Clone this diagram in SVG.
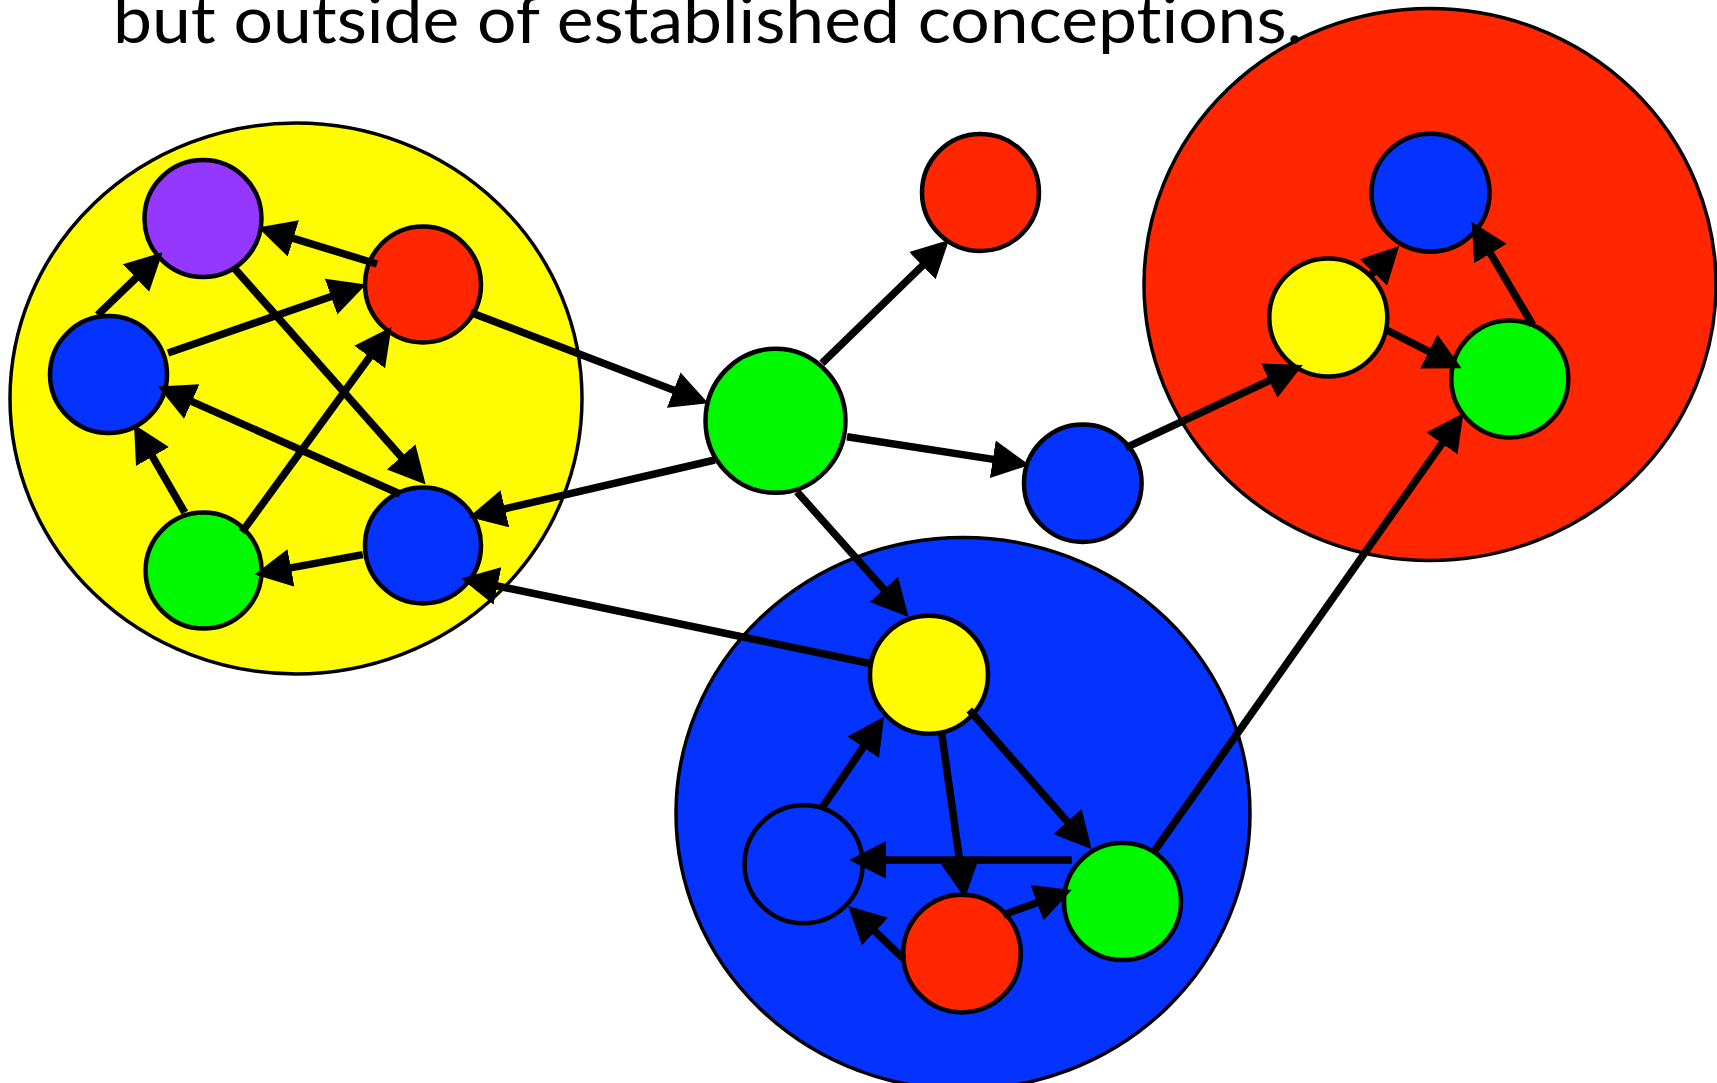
<svg xmlns="http://www.w3.org/2000/svg" width="1717" height="1083" viewBox="0 0 1717 1083">
  <defs>
    <style>
      .cluster { stroke: #000; stroke-width: 3.5; }
      .node { stroke: #000; stroke-width: 4.5; }
      .yellow { fill: #FFFB00; }
      .red { fill: #FF2600; }
      .blue { fill: #0433FF; }
      .green { fill: #00F900; }
      .purple { fill: #9437FF; }
      .edge { fill: none; stroke: #000; stroke-width: 7.5; marker-end: url(#head); }
      .title { font-family: "Lato", "Open Sans", sans-serif; font-size: 66px; fill: #000; font-variant-ligatures: none; }
    </style>
    <marker id="head" markerUnits="userSpaceOnUse" markerWidth="40" markerHeight="40" refX="17" refY="19" orient="auto">
      <path d="M0,0 L37,19 L0,38 Z" fill="#000"/>
    </marker>
  </defs>

  <rect width="1717" height="1083" fill="#fff"/>

  <!-- cluster backgrounds -->
  <g id="cluster-yellow"><ellipse class="cluster yellow" cx="296" cy="398.5" rx="286" ry="275.5"/></g>
  <g id="cluster-red"><ellipse class="cluster red" cx="1430" cy="284.5" rx="286" ry="276"/></g>
  <g id="cluster-blue"><ellipse class="cluster blue" cx="963" cy="813.5" rx="287" ry="276"/></g>

  <!-- yellow cluster members -->
  <g id="y-purple"><circle class="node purple" cx="203" cy="218.5" r="58.5"/></g>
  <g id="y-red"><circle class="node red" cx="423" cy="284.5" r="58"/></g>
  <g id="y-blue-left"><circle class="node blue" cx="108.5" cy="374.6" r="58.5"/></g>
  <g id="y-green"><circle class="node green" cx="203.6" cy="570.6" r="58"/></g>
  <g id="y-blue-right"><circle class="node blue" cx="423" cy="545.5" r="58"/></g>

  <!-- free nodes -->
  <g id="hub-green"><ellipse class="node green" cx="775.5" cy="420.8" rx="70" ry="72"/></g>
  <g id="free-red"><circle class="node red" cx="980.5" cy="192.5" r="58.5"/></g>
  <g id="free-blue"><circle class="node blue" cx="1082.8" cy="483.2" r="58.8"/></g>

  <!-- red cluster members -->
  <g id="r-blue"><circle class="node blue" cx="1430.5" cy="192.7" r="59"/></g>
  <g id="r-yellow"><circle class="node yellow" cx="1328.3" cy="317.5" r="59"/></g>
  <g id="r-green"><circle class="node green" cx="1509.8" cy="379" r="58.5"/></g>

  <!-- blue cluster members -->
  <g id="b-yellow"><circle class="node yellow" cx="929" cy="674.8" r="59"/></g>
  <g id="b-blue"><circle class="node blue" cx="803.6" cy="864.3" r="59"/></g>
  <g id="b-red"><circle class="node red" cx="962" cy="953.6" r="58.8"/></g>
  <g id="b-green"><circle class="node green" cx="1122.5" cy="901.6" r="58.5"/></g>

  <!-- connectors -->
  <g id="connectors">
    <path class="edge" d="M377,264 L277.1,233.4"/>
    <path class="edge" d="M97.6,315 L148.2,266.2"/>
    <path class="edge" d="M168,353 L347.1,291"/>
    <path class="edge" d="M235,269 L412.4,469.6"/>
    <path class="edge" d="M242,532 L379.7,343.2"/>
    <path class="edge" d="M400,494 L176.3,394.6"/>
    <path class="edge" d="M184.8,512.6 L144,441.8"/>
    <path class="edge" d="M362.8,554.6 L274.2,570.9"/>
    <path class="edge" d="M470.7,312.4 L689.6,396.2"/>
    <path class="edge" d="M714.8,460 L488.3,512.6"/>
    <path class="edge" d="M870,663.5 L480.8,582.5"/>
    <path class="edge" d="M822,363.3 L934.6,253.9"/>
    <path class="edge" d="M847,436.7 L1009.6,461.9"/>
    <path class="edge" d="M797,491.7 L895.2,602.1"/>
    <path class="edge" d="M1125.6,447.8 L1284.6,373.5"/>
    <path class="edge" d="M1370,276 L1385.3,260.3"/>
    <path class="edge" d="M1386.7,330 L1443.9,359.2"/>
    <path class="edge" d="M1532.7,325 L1481.9,238.9"/>
    <path class="edge" d="M1153.7,852.1 L1451.8,429.6"/>
    <path class="edge" d="M821.7,808.3 L872.8,733.2"/>
    <path class="edge" d="M941.7,733.3 L962.2,878.5"/>
    <path class="edge" d="M969.3,710 L1078.5,834.3"/>
    <path class="edge" d="M1071.7,860 L869.3,860"/>
    <path class="edge" d="M1003.2,915 L1052.9,896.9"/>
    <path class="edge" d="M903.7,958.8 L862.7,919.8"/>
  </g>

  <text class="title" x="113" y="43" textLength="1190" lengthAdjust="spacingAndGlyphs">but outside of established conceptions.</text>
</svg>
